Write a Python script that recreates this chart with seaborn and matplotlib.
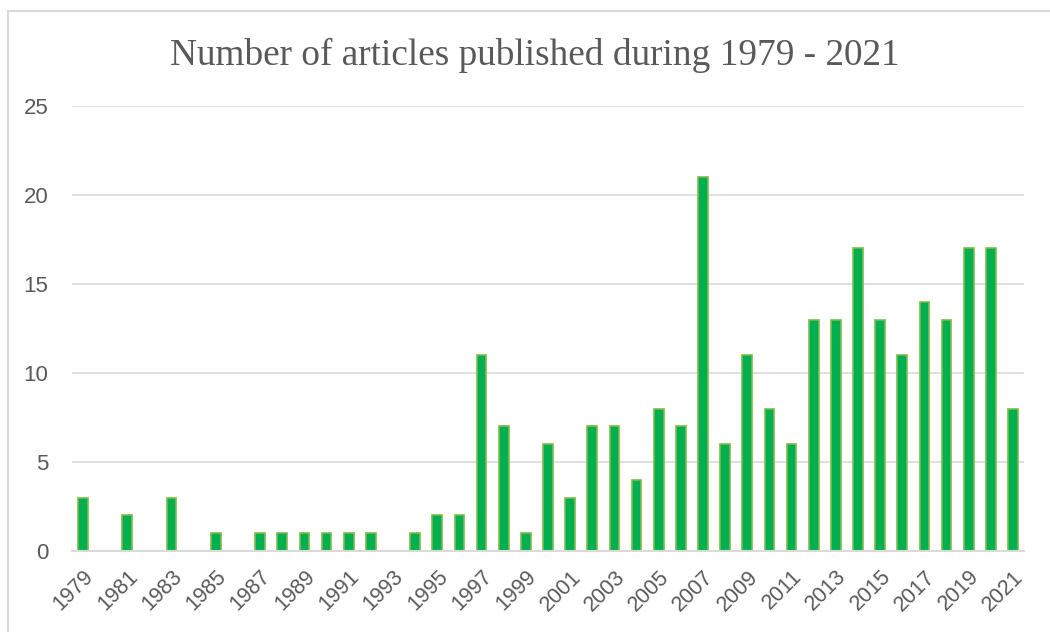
import matplotlib
matplotlib.use("Agg")
import matplotlib.pyplot as plt
from matplotlib.patches import Rectangle
import seaborn as sns
import pandas as pd

years = [str(y) for y in range(1979, 2022)]
counts = [3, 0, 2, 0, 3, 0, 1, 0, 1, 1, 1, 1, 1, 1, 0, 1, 2, 2, 11, 7, 1, 6,
          3, 7, 7, 4, 8, 7, 21, 6, 11, 8, 6, 13, 13, 17, 13, 11, 14, 13, 17, 17, 8]
title = "Number of articles published during 1979 - 2021"

df = pd.DataFrame({"year": years, "count": counts})

sns.set_theme(style="white")
plt.rcParams['font.family'] = ['Liberation Sans', 'DejaVu Sans']

W, H = 1050, 632
fig = plt.figure(figsize=(W / 100, H / 100), dpi=100)
ax = fig.add_axes([72 / W, 1 - 551 / H, (1024 - 72) / W, (551 - 106) / H])

sns.barplot(data=df, x="year", y="count", order=years, color="#00B050",
            saturation=1, width=0.44, edgecolor="#7DBB4A", linewidth=1.2, ax=ax)

grey = "#595959"
grid = "#D9D9D9"
ax.set_ylim(0, 25)
ax.set_xlim(-0.5, len(years) - 0.5)
ax.set_yticks(range(0, 26, 5))
ax.yaxis.grid(True, color=grid, linewidth=1.2)
ax.set_axisbelow(True)
for s in ["top", "right", "left"]:
    ax.spines[s].set_visible(False)
ax.spines["bottom"].set_color(grid)
ax.spines["bottom"].set_linewidth(1.5)
ax.set_xlabel("")
ax.set_ylabel("")

ticks = list(range(0, len(years), 2))
ax.set_xticks(ticks)
ax.set_xticklabels([years[i] for i in ticks], rotation=45, ha="right",
                   rotation_mode="anchor", color=grey, fontsize=15.5)
ax.tick_params(axis="x", length=0, pad=11)
ax.tick_params(axis="y", length=0, pad=17, labelcolor=grey, labelsize=16)

fig.text(535 / W, 1 - 55 / H, title, ha="center", va="center",
         fontsize=26.8, color=grey, family=["Liberation Serif", "DejaVu Serif"])

fig.patches.append(Rectangle((8 / W, -0.1), 1.2, 1 - 11 / H + 0.1,
                             transform=fig.transFigure, fill=False,
                             edgecolor=grid, linewidth=1.5))

fig.savefig("out.png", dpi=100, facecolor="white")
